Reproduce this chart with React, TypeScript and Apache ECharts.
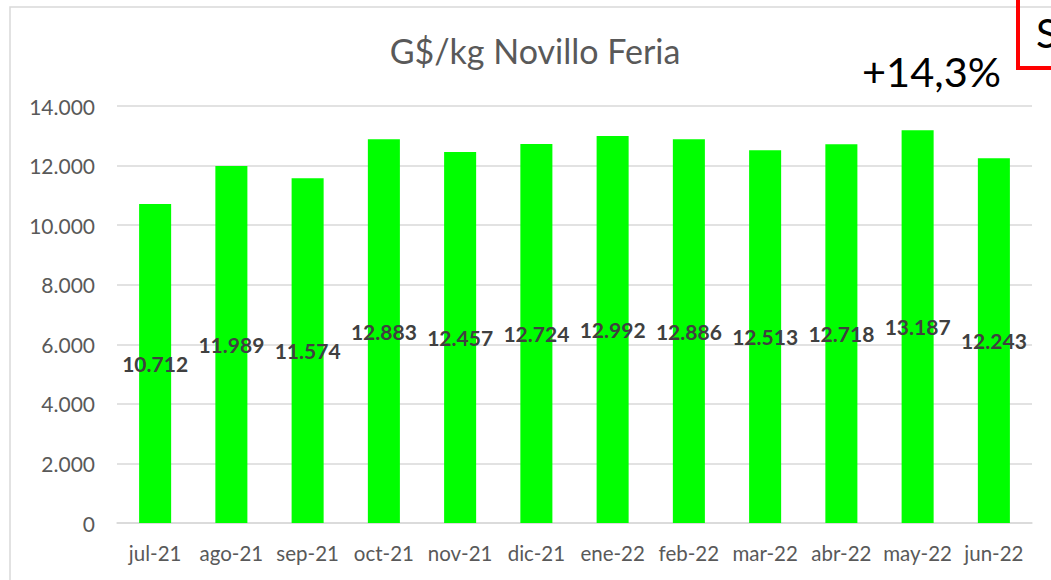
import React, { useEffect, useRef } from "react";
import * as echarts from "echarts";

const categories = ["jul-21", "ago-21", "sep-21", "oct-21", "nov-21", "dic-21", "ene-22", "feb-22", "mar-22", "abr-22", "may-22", "jun-22"];
const values = [10712, 11989, 11574, 12883, 12457, 12724, 12992, 12886, 12513, 12718, 13187, 12243];
const titleText = "G$/kg Novillo Feria";
const changeText = "+14,3%";
const boxText = "S";

const FONT = "Lato, 'Open Sans', sans-serif";

function fmt(v: number): string {
  return Math.round(v).toString().replace(/\B(?=(\d{3})+(?!\d))/g, ".");
}

export default function App() {
  const ref = useRef<HTMLDivElement>(null);
  useEffect(() => {
    if (!ref.current) return;
    const chart = echarts.init(ref.current, null, { renderer: "svg" });
    chart.setOption({
      animation: false,
      backgroundColor: "#ffffff",
      textStyle: { fontFamily: FONT },
      grid: { left: 117, right: 19, top: 106, bottom: 57, containLabel: false },
      xAxis: {
        type: "category",
        data: categories,
        axisLine: { lineStyle: { color: "#d9d9d9", width: 1.5 } },
        axisTick: { show: false },
        axisLabel: { color: "#595959", fontSize: 20.5, margin: 19, fontFamily: FONT, interval: 0, hideOverlap: false },
      },
      yAxis: {
        type: "value",
        min: 0,
        max: 14000,
        interval: 2000,
        axisLine: { show: false },
        axisTick: { show: false },
        splitLine: { lineStyle: { color: "#d9d9d9", width: 1.5 } },
        axisLabel: { color: "#595959", fontSize: 21, margin: 22, fontFamily: FONT, formatter: (v: number) => fmt(v) },
      },
      series: [
        {
          type: "bar",
          data: values,
          barWidth: "42%",
          itemStyle: { color: "#00ff00" },
          label: {
            show: true,
            position: "inside",
            color: "#404040",
            fontSize: 21,
            fontWeight: "bold",
            fontFamily: FONT,
            formatter: (p: any) => fmt(p.value),
          },
        },
      ],
      graphic: [
        {
          type: "rect",
          shape: { x: 10, y: 7, width: 1200, height: 700 },
          style: { fill: "none", stroke: "#d9d9d9", lineWidth: 1.5 },
          silent: true,
        },
        {
          type: "text",
          x: 535,
          y: 50,
          style: { text: titleText, fontSize: 34, fill: "#595959", fontFamily: FONT, align: "center", verticalAlign: "middle" },
        },
        {
          type: "text",
          x: 862,
          y: 71,
          style: { text: changeText, fontSize: 41.5, fill: "#000000", fontFamily: FONT, align: "left", verticalAlign: "middle" },
        },
        {
          type: "rect",
          shape: { x: 1018, y: -10, width: 100, height: 78 },
          style: { fill: "none", stroke: "#ff0000", lineWidth: 4 },
        },
        {
          type: "text",
          x: 1036,
          y: 33,
          style: { text: boxText, fontSize: 40, fill: "#000000", fontFamily: FONT, align: "left", verticalAlign: "middle" },
        },
      ],
    });
    return () => chart.dispose();
  }, []);
  return <div ref={ref} style={{ position: "fixed", left: 0, top: 0, width: 1051, height: 580 }} />;
}
